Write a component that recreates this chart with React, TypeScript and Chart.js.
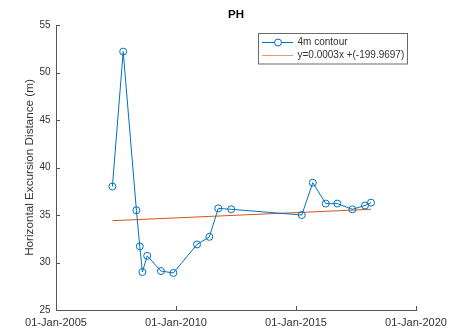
import React, { useEffect, useRef } from "react";
import { Chart, registerables } from "chart.js";

Chart.register(...registerables);

const chartTitle = "PH";
const yAxisLabel = "Horizontal Excursion Distance (m)";
const seriesLabel = "4m contour";
const trendLabel = "y=0.0003x +(-199.9697)";

// survey dates as decimal years
const surveyYears = [
  2007.35, 2007.8, 2008.35, 2008.49, 2008.6, 2008.8, 2009.375, 2009.89, 2010.875,
  2011.39, 2011.76, 2012.3, 2015.24, 2015.7, 2016.24, 2016.72, 2017.35, 2017.875, 2018.125,
];
const distances = [
  38.0, 52.2, 35.5, 31.7, 29.0, 30.7, 29.1, 28.9, 31.9, 32.7, 35.7, 35.6, 35.0, 38.4, 36.2,
  36.2, 35.6, 36.0, 36.3,
];
const trendYears = [2007.35, 2018.125];
const trendValues = [34.4, 35.6];

const xTickYears = [2005, 2010, 2015, 2020];
const xTickLabels = ["01-Jan-2005", "01-Jan-2010", "01-Jan-2015", "01-Jan-2020"];
const yTickValues = [25, 30, 35, 40, 45, 50, 55];

const BLUE = "#0072BD";
const ORANGE = "#D95319";
const AXIS = "#555555";
const TEXT = "#333333";
const FONT = "Liberation Sans, Arial, sans-serif";

const overlayPlugin = {
  id: "matlabOverlay",
  afterDraw(chart: any) {
    const { ctx, chartArea, scales } = chart;
    const xs = scales.x;
    const ys = scales.y;
    ctx.save();
    // inward tick marks
    ctx.strokeStyle = AXIS;
    ctx.lineWidth = 1;
    ctx.beginPath();
    xTickYears.forEach((v) => {
      const px = Math.round(xs.getPixelForValue(v)) + 0.5;
      ctx.moveTo(px, chartArea.bottom);
      ctx.lineTo(px, chartArea.bottom - 4);
    });
    yTickValues.forEach((v) => {
      const py = Math.round(ys.getPixelForValue(v)) + 0.5;
      ctx.moveTo(chartArea.left, py);
      ctx.lineTo(chartArea.left + 4, py);
    });
    ctx.stroke();

    // title
    ctx.fillStyle = "#000";
    ctx.font = `bold 11.5px ${FONT}`;
    ctx.textAlign = "center";
    ctx.textBaseline = "middle";
    ctx.fillText(chartTitle, (chartArea.left + chartArea.right) / 2, 15);

    // y axis label
    ctx.save();
    ctx.translate(30, (chartArea.top + chartArea.bottom) / 2);
    ctx.rotate(-Math.PI / 2);
    ctx.fillStyle = TEXT;
    ctx.font = `11.7px ${FONT}`;
    ctx.fillText(yAxisLabel, 0, 0);
    ctx.restore();

    // legend
    const lx = 258, ly = 33.5, lw = 149, lh = 30.5;
    ctx.fillStyle = "#fff";
    ctx.fillRect(lx, ly, lw, lh);
    ctx.strokeStyle = "#6a6a6a";
    ctx.lineWidth = 1;
    ctx.strokeRect(lx + 0.5, ly, lw, lh);
    const r1 = 42.5, r2 = 55.5;
    ctx.strokeStyle = BLUE;
    ctx.beginPath();
    ctx.moveTo(262, r1);
    ctx.lineTo(274.5, r1);
    ctx.moveTo(281.5, r1);
    ctx.lineTo(293, r1);
    ctx.stroke();
    ctx.beginPath();
    ctx.arc(278, r1, 3.5, 0, Math.PI * 2);
    ctx.stroke();
    ctx.strokeStyle = ORANGE;
    ctx.globalAlpha = 0.6;
    ctx.beginPath();
    ctx.moveTo(262, r2);
    ctx.lineTo(293, r2);
    ctx.stroke();
    ctx.globalAlpha = 1;
    ctx.fillStyle = TEXT;
    ctx.font = `10px ${FONT}`;
    ctx.textAlign = "left";
    ctx.fillText(seriesLabel, 297.5, r1);
    ctx.fillText(trendLabel, 297.5, r2);
    ctx.restore();
  },
};

export default function App() {
  const canvasRef = useRef<HTMLCanvasElement | null>(null);

  useEffect(() => {
    document.body.style.margin = "0";
    const canvas = canvasRef.current;
    if (!canvas) return;
    const chart = new Chart(canvas, {
      type: "line",
      data: {
        datasets: [
          {
            label: seriesLabel,
            data: surveyYears.map((x, i) => ({ x, y: distances[i] })),
            borderColor: BLUE,
            backgroundColor: "rgba(0,0,0,0)",
            borderWidth: 1,
            pointRadius: 3.5,
            pointBorderWidth: 1,
            pointBorderColor: BLUE,
            pointBackgroundColor: "rgba(0,0,0,0)",
            pointStyle: "circle",
            tension: 0,
          },
          {
            label: trendLabel,
            data: trendYears.map((x, i) => ({ x, y: trendValues[i] })),
            borderColor: ORANGE,
            borderWidth: 1,
            pointRadius: 0,
            tension: 0,
          },
        ],
      },
      options: {
        animation: false,
        responsive: false,
        devicePixelRatio: 1,
        layout: { padding: { left: 0, right: 35, top: 25, bottom: 0 } },
        plugins: {
          legend: { display: false },
          title: { display: false },
          tooltip: { enabled: false },
        },
        scales: {
          x: {
            type: "linear",
            min: 2005,
            max: 2020,
            afterBuildTicks: (scale: any) => {
              scale.ticks = xTickYears.map((v) => ({ value: v }));
            },
            afterFit: (scale: any) => {
              scale.height = 24;
              scale.paddingLeft = 0;
              scale.paddingRight = 0;
            },
            grid: { display: false, drawTicks: false },
            border: { display: true, color: AXIS, width: 1 },
            ticks: {
              color: TEXT,
              font: { family: FONT, size: 11 },
              padding: 6,
              maxRotation: 0,
              autoSkip: false,
              callback: (v: any) => {
                const i = xTickYears.indexOf(Number(v));
                return i >= 0 ? xTickLabels[i] : "";
              },
            },
          },
          y: {
            type: "linear",
            min: 25,
            max: 55,
            afterBuildTicks: (scale: any) => {
              scale.ticks = yTickValues.map((v) => ({ value: v }));
            },
            afterFit: (scale: any) => {
              scale.width = 56;
              scale.paddingTop = 0;
              scale.paddingBottom = 0;
            },
            grid: { display: false, drawTicks: false },
            border: { display: true, color: AXIS, width: 1 },
            ticks: {
              color: TEXT,
              font: { family: FONT, size: 10 },
              padding: 5.5,
              autoSkip: false,
            },
          },
        },
      },
      plugins: [overlayPlugin],
    } as any);
    return () => chart.destroy();
  }, []);

  return (
    <div style={{ position: "absolute", left: 0, top: 0, width: 451, height: 334, background: "#fff" }}>
      <canvas ref={canvasRef} width={451} height={334} style={{ width: 451, height: 334 }} />
    </div>
  );
}
